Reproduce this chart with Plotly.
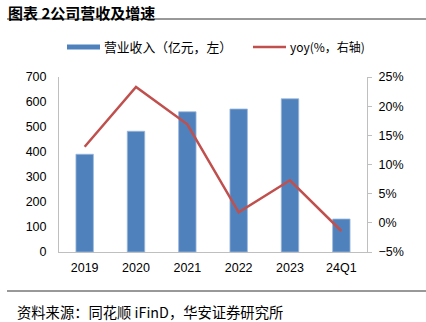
import plotly.graph_objects as go

categories = ["2019", "2020", "2021", "2022", "2023", "24Q1"]
revenue = [391, 483, 561, 572, 613, 132]          # 营业收入（亿元）
yoy = [0.1305, 0.233, 0.169, 0.018, 0.073, -0.014]  # yoy

W, H = 426, 322
L, R, T, B = 59, 367, 77, 252

def px(x):
    return (x - L) / (R - L)

def py(y):
    return (B - y) / (B - T)

tick_font = dict(family="Liberation Sans, Arial, sans-serif", size=12.5, color="#000000")
cjk = "Noto Sans CJK SC, sans-serif"

fig = go.Figure()
fig.add_trace(go.Bar(
    x=categories, y=revenue, name="营业收入（亿元，左）",
    marker=dict(color="#4F81BD", line=dict(color="#9DB9DC", width=0.8)),
    width=0.34, showlegend=False,
))
fig.add_trace(go.Scatter(
    x=categories, y=yoy, name="yoy(%，右轴)", yaxis="y2", mode="lines",
    line=dict(color="#C0504D", width=2.5), showlegend=False,
))

shapes = [
    dict(type="line", xref="paper", yref="paper", x0=px(7), x1=px(426), y0=py(19), y1=py(19),
         line=dict(color="#333333", width=1)),
    dict(type="line", xref="paper", yref="paper", x0=px(7), x1=px(426), y0=py(291), y1=py(291),
         line=dict(color="#333333", width=1)),
    dict(type="rect", xref="paper", yref="paper", x0=px(67), x1=px(100), y0=py(49.5), y1=py(44.5),
         fillcolor="#4F81BD", line=dict(width=0)),
    dict(type="line", xref="paper", yref="paper", x0=px(253), x1=px(286), y0=py(47), y1=py(47),
         line=dict(color="#C0504D", width=2.5)),
]

annotations = [
    dict(text="<b>图表 2公司营收及增速</b>", xref="paper", yref="paper", x=px(7), y=py(0.5),
         xanchor="left", yanchor="top", showarrow=False, borderpad=0,
         font=dict(family=cjk, size=15, color="#000000")),
    dict(text="营业收入（亿元，左）", xref="paper", yref="paper", x=px(102), y=py(47),
         xanchor="left", yanchor="middle", showarrow=False,
         font=dict(family=cjk, size=12.8, color="#000000")),
    dict(text="yoy(%，右轴)", xref="paper", yref="paper", x=px(288), y=py(47),
         xanchor="left", yanchor="middle", showarrow=False,
         font=dict(family=cjk, size=12, color="#000000")),
    dict(text="资料来源：同花顺 iFinD，华安证券研究所", xref="paper", yref="paper", x=px(15), y=py(311),
         xanchor="left", yanchor="middle", showarrow=False,
         font=dict(family=cjk, size=14.3, color="#000000")),
]

fig.update_layout(
    width=W, height=H,
    margin=dict(l=L, r=W - R, t=T, b=H - B, pad=0),
    paper_bgcolor="white", plot_bgcolor="white",
    bargap=0.66,
    xaxis=dict(
        type="category", showline=True, linecolor="#BFBFBF", linewidth=1,
        showgrid=False, ticks="", tickfont=tick_font, automargin=False,
        ticklabelstandoff=4,
    ),
    yaxis=dict(
        range=[0, 700], dtick=100, showline=True, linecolor="#BFBFBF", linewidth=1,
        showgrid=False, zeroline=False, ticks="", tickfont=tick_font, automargin=False,
        ticklabelstandoff=9,
    ),
    yaxis2=dict(
        range=[-0.05, 0.25], dtick=0.05, tickformat=".0%", overlaying="y", side="right",
        showline=True, linecolor="#BFBFBF", linewidth=1, showgrid=False, zeroline=False,
        ticks="outside", ticklen=4, tickcolor="#BFBFBF", tickfont=tick_font, automargin=False,
        ticklabelstandoff=4,
    ),
    shapes=shapes,
    annotations=annotations,
)

fig.write_html("out.html")
